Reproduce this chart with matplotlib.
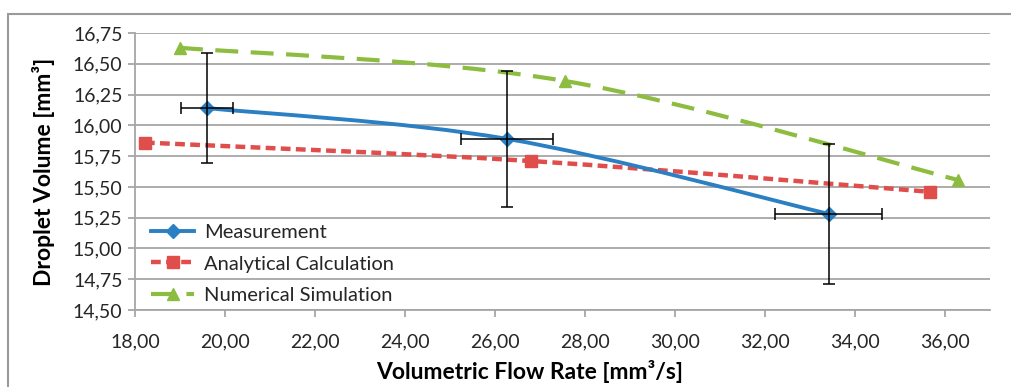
"""Droplet volume vs. volumetric flow rate (Excel-style chart)"""

import matplotlib
matplotlib.use("Agg")
import matplotlib.pyplot as plt
import numpy as np
from matplotlib.path import Path
from matplotlib.patches import PathPatch, Rectangle
from matplotlib.lines import Line2D
from matplotlib.ticker import FuncFormatter, MultipleLocator

# Measurement
meas_x = [19.6, 26.27, 33.42]
meas_y = [16.14, 15.89, 15.28]
meas_xerr = [0.58, 1.03, 1.19]
meas_yerr = [0.45, 0.55, 0.565]

# Analytical calculation
ana_x = [18.22, 26.8, 35.67]
ana_y = [15.86, 15.71, 15.46]

# Numerical simulation
num_x = [19.0, 27.56, 36.3]
num_y = [16.63, 16.36, 15.555]

labels = ["Measurement", "Analytical Calculation", "Numerical Simulation"]

BLUE = "#2b7fc3"
RED = "#e04e4b"
GREEN = "#8dbd40"
GRID = "#a6a6a6"
TXT = "#262626"

plt.rcParams['font.family'] = ['Lato', 'DejaVu Sans']


def smooth_path(xs, ys):
	"""Excel-like smoothed line as cubic Bezier path."""
	p = np.column_stack([xs, ys]).astype(float)
	n = len(p)
	verts = [p[0]]
	codes = [Path.MOVETO]
	for i in range(n - 1):
		p_prev = p[i - 1] if i > 0 else p[i]
		p_next2 = p[i + 2] if i + 2 < n else p[i + 1]
		c1 = p[i] + (p[i + 1] - p_prev) / 6.0
		c2 = p[i + 1] - (p_next2 - p[i]) / 6.0
		verts += [c1, c2, p[i + 1]]
		codes += [Path.CURVE4] * 3
	return Path(verts, codes)


fig = plt.figure(figsize=(10.12, 3.87), dpi=100)
ax = fig.add_axes([135 / 1012, 1 - 310 / 387, (990 - 135) / 1012, (310 - 33) / 387])

# outer chart border
fig.patches.append(Rectangle((8 / 1012, -0.1), 1.1, 1.1 - 14 / 387, transform=fig.transFigure,
	fill=False, edgecolor="#9a9a9a", linewidth=1.5))

series = [
	(ana_x, ana_y, RED, (0, (2.2, 1.2)), 's', 8.5, 3.2),
	(num_x, num_y, GREEN, (0, (5.5, 3.0)), '^', 9, 3.0),
	(meas_x, meas_y, BLUE, 'solid', 'D', 7.5, 2.8),
]
for xs, ys, col, ls, mk, ms, lw in series:
	patch = PathPatch(smooth_path(xs, ys), fill=False, edgecolor=col, linewidth=lw,
		linestyle=ls, capstyle='butt', zorder=3)
	ax.add_patch(patch)
	ax.plot(xs, ys, linestyle='none', marker=mk, markersize=ms, color=col,
		markeredgecolor=col, zorder=4)

ax.errorbar(meas_x, meas_y, xerr=meas_xerr, yerr=meas_yerr, fmt='none',
	ecolor='black', elinewidth=1.1, capsize=4, capthick=1.1, zorder=5)

ax.set_xlim(18, 37)
ax.set_ylim(14.5, 16.75)
ax.xaxis.set_major_locator(MultipleLocator(2))
ax.yaxis.set_major_locator(MultipleLocator(0.25))
fmt = FuncFormatter(lambda v, pos: f"{v:.2f}".replace('.', ','))
ax.xaxis.set_major_formatter(fmt)
ax.yaxis.set_major_formatter(fmt)

ax.grid(axis='y', color=GRID, linewidth=1.3)
ax.set_axisbelow(True)
for s in ['top', 'right']:
	ax.spines[s].set_visible(False)
for s in ['left', 'bottom']:
	ax.spines[s].set_color(GRID)
	ax.spines[s].set_linewidth(1.3)
ax.tick_params(axis='both', colors=GRID, labelcolor=TXT, labelsize=14, length=5, width=1.3)
ax.tick_params(axis='x', pad=12)
ax.tick_params(axis='y', pad=4)

ax.set_xlabel("Volumetric Flow Rate [mm³/s]", fontsize=16.5, fontweight='bold', color='black', labelpad=7)
ax.set_ylabel("Droplet Volume [mm³]", fontsize=16.5, fontweight='bold', color='black', labelpad=13)
ax.xaxis.label.set_x(0.461)

handles = [
	Line2D([], [], color=BLUE, linewidth=2.8, marker='D', markersize=7.5),
	Line2D([], [], color=RED, linewidth=3.2, linestyle=(0, (2.2, 1.2)), marker='s', markersize=8.5),
	Line2D([], [], color=GREEN, linewidth=3.0, linestyle=(0, (5.5, 3.0)), marker='^', markersize=9),
]
leg = ax.legend(handles, labels, loc='lower left', bbox_to_anchor=(0.0, -0.037), frameon=False,
	fontsize=14.5, handlelength=2.15, handletextpad=0.5, labelspacing=0.72, borderaxespad=0.4)
for t in leg.get_texts():
	t.set_color(TXT)

fig.savefig("out.png", dpi=100)
